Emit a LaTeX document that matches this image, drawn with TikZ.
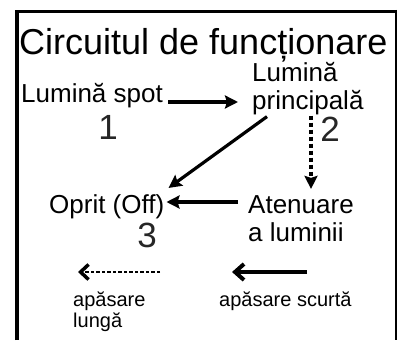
\documentclass[tikz,border=0pt]{standalone}
\usepackage{fontspec}
\setmainfont{Liberation Sans}
\usetikzlibrary{positioning, arrows.meta}

\begin{document}
\begin{tikzpicture}[
    x=1pt, y=1pt,
    lbl/.style={inner sep=0pt, anchor=base west, align=left, font=\fontsize{26}{28}\selectfont},
    note/.style={inner sep=0pt, anchor=base west, align=left, font=\fontsize{20}{21}\selectfont},
    num/.style={inner sep=0pt, anchor=base, font=\fontsize{35}{35}\selectfont, text=black!85},
    arr/.style={-{Stealth[length=13pt,width=13pt,inset=2pt]}, line width=3.2pt},
    dasharr/.style={arr, dash pattern=on 4.5pt off 2.5pt, line width=3.4pt},
    legsolid/.style={-{Straight Barb[length=9pt,width=16pt,line width=4pt]}, line width=4.5pt},
    legdash/.style={-{Straight Barb[length=8pt,width=15pt,line width=3.5pt]}, line width=2.8pt, dash pattern=on 3.5pt off 2pt}
  ]
  \useasboundingbox (0,0) rectangle (398,340);

  % frame, open at the bottom
  \draw[line width=3.5pt] (17,0) |- (396,328.5);
  \draw[line width=2pt] (396,330) -- (396,0);

  \node[inner sep=0pt, anchor=base west, font=\fontsize{36}{36}\selectfont] (title) at (19,285) {Circuitul de funcționare};

  % base of a two-line node is its last line
  \node[lbl] (spot)  at (21,237)  {Lumină spot};
  \node[lbl] (princ) at (252,230) {Lumină\\principală};
  \node[lbl] (oprit) at (49,127)  {Oprit (Off)};
  \node[lbl] (aten)  at (248,99)  {Atenuare\\a luminii};

  \node[num] (n1) at (108,200) {1};
  \node[num] (n2) at (330,198) {2};
  \node[num] (n3) at (147,93)  {3};

  \draw[arr, shorten <=5pt, shorten >=14pt] ([yshift=1pt]spot.base east) -- ([yshift=1pt]spot.base east -| princ.west);
  \draw[arr] ([xshift=15pt,yshift=-1pt]princ.south west) -- ([shift={(4pt,6pt)}]oprit.north east);
  \draw[dasharr] ([xshift=59pt]princ.south west) -- ([xshift=63pt,yshift=6pt]aten.north west);
  \draw[arr, shorten <=10pt, shorten >=2pt] ([yshift=11pt]oprit.base east -| aten.west) -- ([yshift=11pt]oprit.base east);

  % legend
  \node[note] (lung)  at (73,13)  {apăsare\\lungă};
  \node[note] (scurt) at (219,34) {apăsare scurtă};
  \coordinate (dA) at (160,68);
  \coordinate (dB) at (78,68);
  \coordinate (sA) at (307,68);
  \coordinate (sB) at (232,68);
  \draw[legdash] (dA) -- (dB);
  \draw[legsolid] (sA) -- (sB);
\end{tikzpicture}
\end{document}
